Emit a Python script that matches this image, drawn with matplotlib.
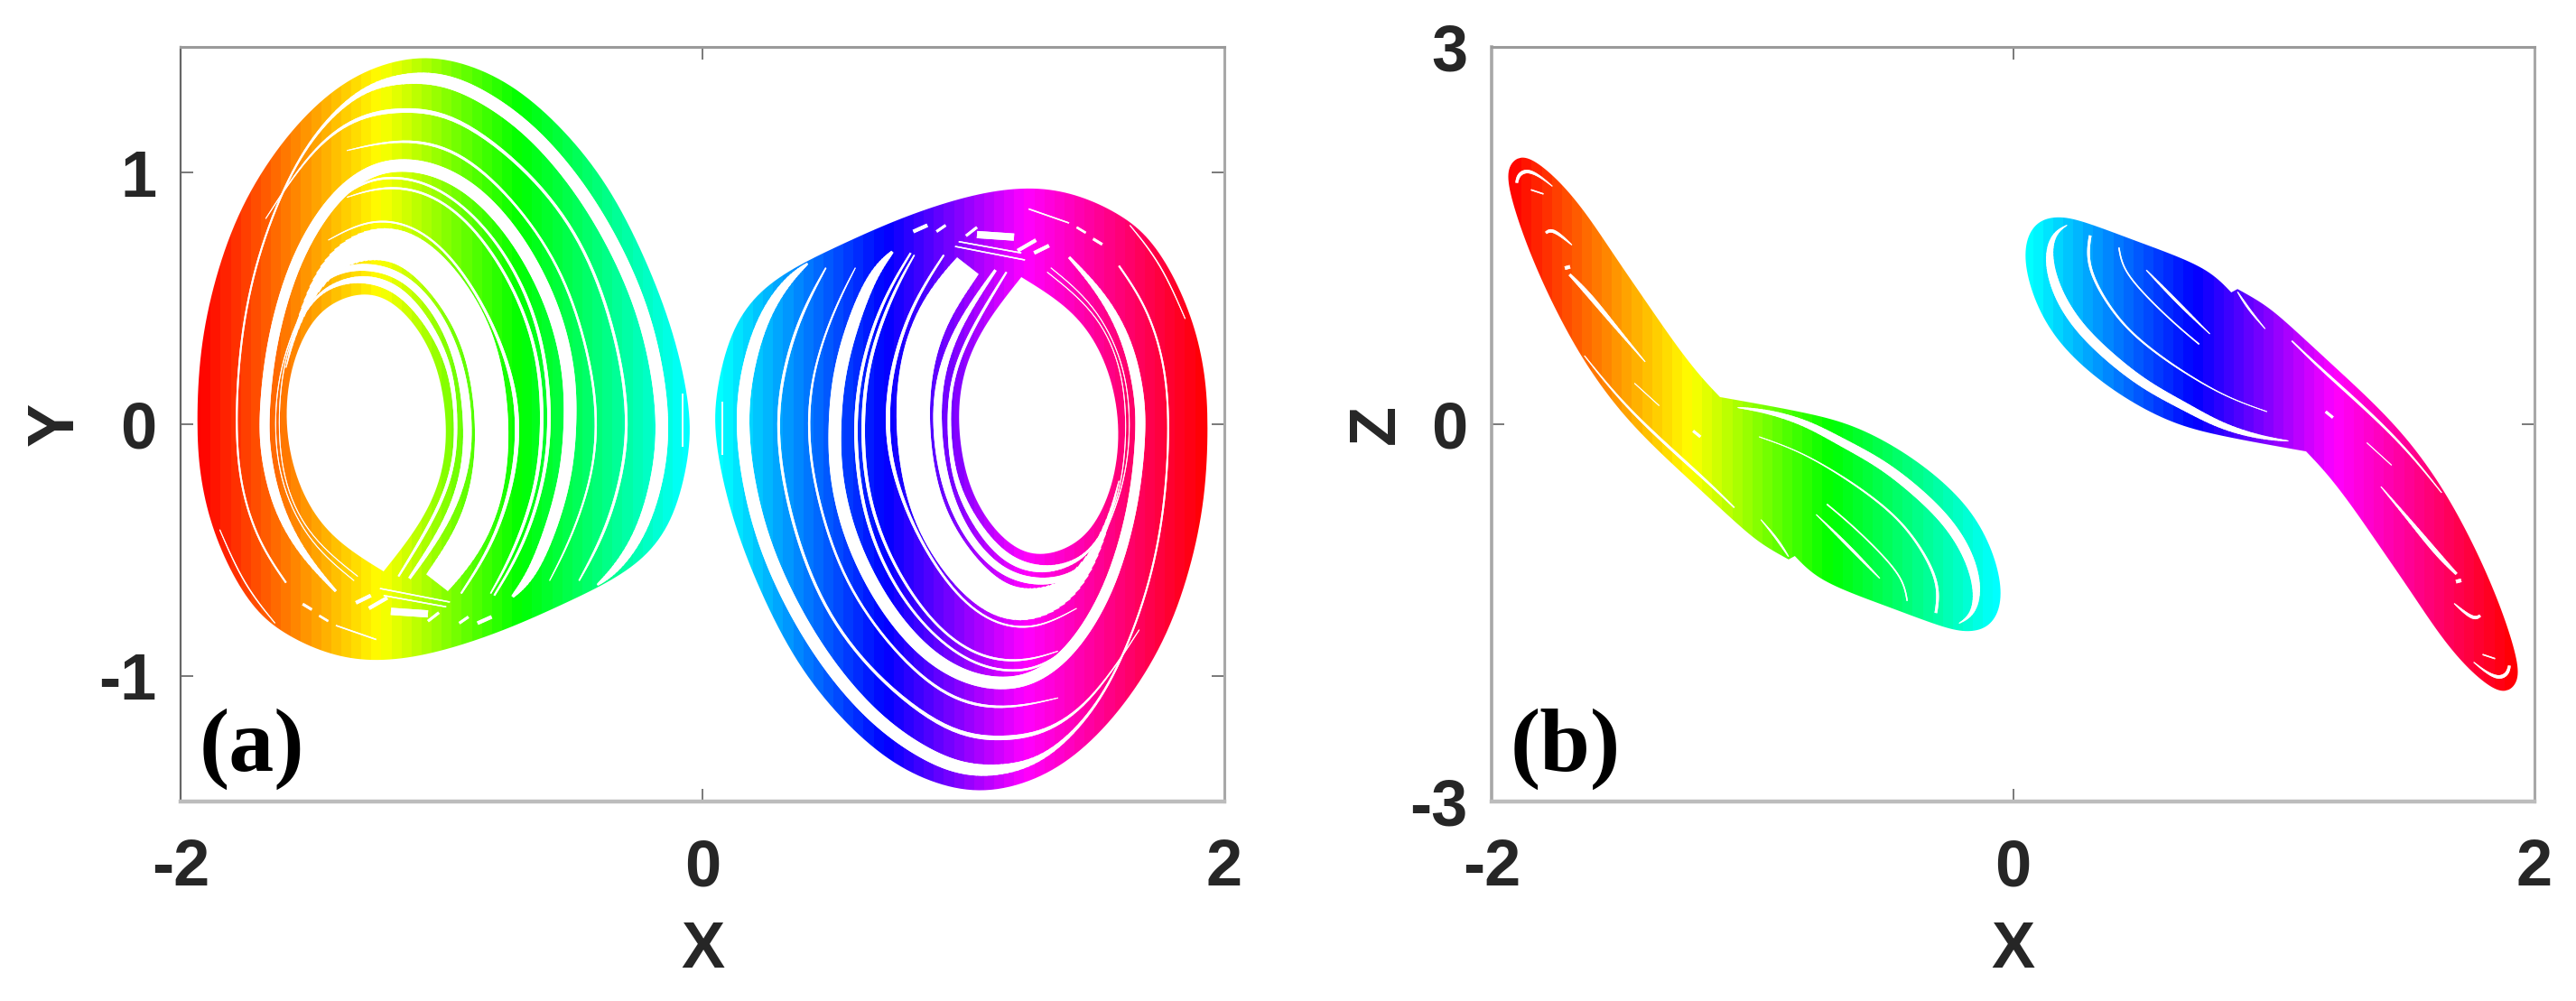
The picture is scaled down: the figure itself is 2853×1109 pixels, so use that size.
import numpy as np
import matplotlib
matplotlib.use("Agg")
import matplotlib.pyplot as plt
from matplotlib.collections import LineCollection
from matplotlib.colors import hsv_to_rgb
from matplotlib.patches import PathPatch
from matplotlib.path import Path

hue_x = [-1.92, -1.235, -0.70, -0.07, 0.07, 0.70, 1.235, 1.92]
hue_v = [0.0, 1 / 6, 1 / 3, 0.5, 0.5, 2 / 3, 5 / 6, 1.0]

# ---- panel (a): left attractor outline (right one is its point mirror)
a_outer_x = [-1.939, -1.928, -1.871, -1.772, -1.617, -1.448, -1.278, -1.081, -.897, -.713, -.530, -.360, -.219, -.106, -.043, -.050, -.106, -.205, -.346, -.516, -.713, -.911, -1.109, -1.292, -1.448, -1.589, -1.702, -1.801, -1.885, -1.928]
a_outer_y = [.001, .292, .580, .868, 1.122, 1.308, 1.418, 1.469, 1.435, 1.342, 1.173, .953, .665, .360, .055, -.131, -.368, -.520, -.622, -.707, -.800, -.876, -.930, -.944, -.910, -.842, -.757, -.605, -.402, -.199]
a_hole_x = [-1.603, -1.582, -1.504, -1.405, -1.292, -1.194, -1.095, -1.017, -.982, -.982, -1.017, -1.095, -1.222, -1.222, -1.222, -1.363, -1.476, -1.561]
a_hole_y = [.001, .225, .411, .495, .526, .495, .394, .242, .055, -.114, -.266, -.419, -.585, -.585, -.585, -.495, -.385, -.216]

# ---- panel (a): white gaps between the bands (x, y, width in px)
ga1_x = [-1.596, -1.702, -1.772, -1.791, -1.772, -1.709, -1.589, -1.462, -1.307, -1.151, -.996, -.841, -.657, -.473, -.318, -.205, -.146, -.163, -.233, -.332, -.403]
ga1_y = [-.630, -.470, -.249, .001, .343, .665, .986, 1.190, 1.334, 1.379, 1.376, 1.308, 1.173, .953, .682, .394, .055, -.199, -.436, -.580, -.639]
ga1_w = [2, 2, 2, 2, 2, 2, 2, 3, 6, 12, 14, 14, 14, 14, 14, 14, 14, 14, 12, 8, 2]
ga2_x = [-1.674, -1.504, -1.335, -1.151, -.939, -.657, -.459, -.339, -.280, -.304, -.375, -.473]
ga2_y = [.817, 1.088, 1.223, 1.257, 1.232, 1.003, .732, .394, .055, -.199, -.436, -.622]
ga2_w = [1, 2, 4, 5.5, 4, 3, 3, 3, 3, 3, 3, 1.5]
ga3_x = [-1.363, -1.151, -.939, -.728, -.544, -.445, -.400, -.417, -.502, -.586]
ga3_y = [1.088, 1.139, 1.096, .902, .631, .326, .055, -.199, -.453, -.622]
ga3_w = [1, 3, 3, 2.5, 2.5, 2.5, 2.5, 2, 2, 1]
ga4_x = [-1.405, -1.532, -1.631, -1.678, -1.681, -1.652, -1.561, -1.419, -1.278, -1.151, -1.010, -.855, -.699, -.572, -.509, -.504, -.523, -.586, -.657, -.728]
ga4_y = [-.664, -.520, -.334, -.114, .055, .343, .665, .902, 1.012, 1.037, 1.012, .919, .732, .479, .225, .001, -.216, -.436, -.605, -.686]
ga4_w = [3, 8, 11, 11, 11, 11, 12, 12, 13, 14, 14, 14, 14, 14, 14, 14, 14, 13, 10, 3]
ga5_x = [-1.476, -1.335, -1.194, -1.024, -.855, -.714, -.615, -.579, -.601, -.685, -.798]
ga5_y = [.817, .953, .992, .953, .817, .614, .360, .055, -.216, -.486, -.681]
ga5_w = [1, 2.5, 2.5, 2.5, 2.5, 3, 3.5, 4, 3.5, 3, 2]
ga6_x = [-1.363, -1.222, -1.052, -.883, -.728, -.629, -.608, -.636, -.728, -.812]
ga6_y = [.902, .949, .927, .800, .563, .292, .001, -.266, -.520, -.673]
ga6_w = [1, 2.5, 2.5, 2.5, 3, 3.5, 4, 3.5, 3, 1.5]
ga7_x = [-1.434, -1.278, -1.109, -.954, -.812, -.728, -.704, -.721, -.798, -.925]
ga7_y = [.732, .819, .797, .665, .428, .191, .001, -.216, -.470, -.673]
ga7_w = [1, 2, 2, 2.5, 3, 4, 5, 4, 3, 2]
ga8_x = [-1.596, -1.547, -1.434, -1.264, -1.109, -.954, -.841, -.798, -.819, -.897, -1.017]
ga8_y = [.225, .428, .648, .732, .699, .529, .309, .001, -.266, -.470, -.630]
ga8_w = [1, 5, 20, 37, 38, 37, 37, 37, 37, 36, 30]
ga9_x = [-1.321, -1.504, -1.603, -1.631, -1.603, -1.504, -1.405, -1.292, -1.165, -1.052, -.961, -.941, -.953, -1.024, -1.165]
ga9_y = [-.605, -.453, -.249, .001, .292, .495, .563, .584, .543, .411, .225, .001, -.182, -.368, -.605]
ga9_w = [1, 1, 1, 1, 1, 2, 5, 9, 9, 7, 5, 3.5, 3.5, 3.5, 2]
ga10_x = [-1.335, -1.504, -1.617, -1.645, -1.617, -1.504, -1.405, -1.278, -1.137, -1.010, -.925, -.894, -.908, -.982, -1.123]
ga10_y = [-.622, -.478, -.249, .001, .258, .529, .614, .633, .589, .445, .242, .001, -.199, -.402, -.613]
ga10_w = [1, 1, 1, 1, 1, 2, 7, 8, 8, 8, 9, 10, 8, 6, 3]
ga11_x = [-1.850, -1.758, -1.638]
ga11_y = [-.419, -.639, -.791]
ga11_w = [1, 1.5, 1]
ga12_x = [-.075, -.075]
ga12_y = [.123, -.089]
ga12_w = [1.5, 1.5]
# short slits in the crossing zone: x0, x1, y0, y1, width
sa_x0 = [-1.532, -1.469, -1.405, -1.328, -1.278, -1.194, -1.052, -.932, -.862, -1.236, -1.222]
sa_x1 = [-1.497, -1.434, -1.250, -1.271, -1.208, -1.052, -1.010, -.897, -.808, -.968, -.982]
sa_y0 = [-.715, -.761, -.800, -.710, -.732, -.744, -.783, -.791, -.791, -.653, -.681]
sa_y1 = [-.737, -.783, -.856, -.681, -.690, -.754, -.749, -.766, -.766, -.707, -.726]
sa_w = [3, 2.5, 1.5, 4, 4, 8, 3, 3, 4, 1.5, 1.5]

# ---- panel (b): left attractor outline
b_outer_x = [-1.890, -1.822, -1.726, -1.630, -1.521, -1.411, -1.302, -1.206, -1.124, -1.124, -1.124, -.974, -.796, -.632, -.467, -.303, -.166, -.084, -.043, -.050, -.098, -.180, -.276, -.467, -.632, -.761, -.837, -.837, -.837, -.861, -.861, -.861, -.933, -1.001, -1.097, -1.233, -1.384, -1.521, -1.644, -1.740, -1.822, -1.890, -1.938, -1.938]
b_outer_z = [2.144, 2.084, 1.905, 1.658, 1.315, .985, .655, .394, .216, .216, .216, .161, .092, .010, -.155, -.388, -.663, -.965, -1.267, -1.487, -1.625, -1.658, -1.611, -1.460, -1.336, -1.212, -1.048, -1.048, -1.048, -1.075, -1.075, -1.075, -.993, -.897, -.718, -.457, -.169, .133, .491, .848, 1.205, 1.562, 1.892, 2.056]
# ---- panel (b): white gaps
gb1_x = [-.207, -.153, -.132, -.166, -.248, -.372, -.508, -.659, -.796, -.946, -1.056]
gb1_z = [-1.583, -1.515, -1.322, -1.048, -.773, -.526, -.306, -.141, .016, .106, .133]
gb1_w = [1, 5, 9, 11, 11, 11, 10, 9, 7, 4, 1]
gb2_x = [-.296, -.283, -.317, -.413, -.536, -.673, -.823, -.974]
gb2_z = [-1.501, -1.322, -1.103, -.801, -.581, -.388, -.210, -.100]
gb2_w = [3, 3, 2.5, 2, 2, 1.5, 1, 1]
gb3_x = [-.406, -.420, -.495, -.618, -.714]
gb3_z = [-1.405, -1.240, -1.048, -.801, -.636]
gb3_w = [1.5, 1.5, 1.5, 1.5, 1.5]
gb4_x = [-.755, -.645, -.511]
gb4_z = [-.718, -.938, -1.226]
gb4_w = [1, 4, 1]
gb5_x = [-.967, -.905, -.861]
gb5_z = [-.759, -.910, -1.053]
gb5_w = [1, 3, 1]
gb6_x = [-1.069, -1.179, -1.343, -1.507, -1.644]
gb6_z = [-.663, -.443, -.141, .188, .545]
gb6_w = [1.5, 3, 3, 2, 1]
gb7_x = [-1.701, -1.630, -1.521, -1.411]
gb7_z = [1.191, 1.040, .765, .496]
gb7_w = [3, 6, 3, 1]
gb8_x = [-1.452, -1.357]
gb8_z = [.326, .147]
gb8_w = [1, 1]
gb9_x = [-1.227, -1.199]
gb9_z = [-.053, -.100]
gb9_w = [3, 3]
gb10_x = [-1.904, -1.897, -1.863, -1.815, -1.767]
gb10_z = [1.919, 1.988, 2.023, 1.974, 1.892]
gb10_w = [3, 4, 4, 2, 1]
gb11_x = [-1.849, -1.801]
gb11_z = [1.864, 1.831]
gb11_w = [1.5, 1.5]
gb12_x = [-1.792, -1.774, -1.740, -1.692]
gb12_z = [1.521, 1.548, 1.512, 1.425]
gb12_w = [3, 4, 3, 1]
gb13_x = [-1.719, -1.699]
gb13_z = [1.241, 1.252]
gb13_w = [4, 4]

x_ticks = [-2, 0, 2]
ya_ticks = [-1, 0, 1]
zb_ticks = [-3, 0, 3]

W, H = 2853, 1109
INK = "#262626"
FS = 52
plt.rcParams["font.family"] = ["Liberation Sans", "DejaVu Sans"]
plt.rcParams["font.weight"] = "bold"
plt.rcParams["axes.unicode_minus"] = False


def smooth(values, closed=False, sub=8):
    """Cubic B-spline rendering through the read points; one row per array."""
    p = np.array(values, float)
    if closed:
        p = np.c_[p[:, -1], p, p[:, 0], p[:, 1]]
    else:
        p = np.c_[p[:, 0], p[:, 0], p, p[:, -1], p[:, -1]]
    t = np.linspace(0, 1, sub, endpoint=False)[:, None]
    out = []
    for i in range(1, p.shape[1] - 2):
        a, b, c, d = p[:, i - 1], p[:, i], p[:, i + 1], p[:, i + 2]
        out.append(((1 - t) ** 3 * a + (3 * t ** 3 - 6 * t ** 2 + 4) * b
                    + (-3 * t ** 3 + 3 * t ** 2 + 3 * t + 1) * c + t ** 3 * d).T / 6)
    out = np.concatenate(out, axis=1)
    return np.c_[out, p[:, -2]] if not closed else out


def closed_path(x, y):
    sx, sy = smooth([x, y], closed=True)
    return np.c_[sx, sy]


def draw_gaps(ax, gaps):
    segs, lws = [], []
    for sign in (1, -1):
        for gx, gy, gw in gaps:
            sx, sy, sw = smooth([gx, gy, gw])
            pts = sign * np.c_[sx, sy]
            for i in range(len(pts) - 1):
                segs.append(pts[i:i + 3])
                lws.append(max(sw[i], 0.8) * 72 / 100)
    ax.add_collection(LineCollection(segs, colors="white", linewidths=lws,
                                     capstyle="butt", joinstyle="round", zorder=3))


def draw_attractor(ax, ox, oy, ylim):
    n = 104
    edges = np.linspace(-2, 2, n + 1)
    centers = 0.5 * (edges[:-1] + edges[1:])
    h = np.interp(centers, hue_x, hue_v) % 1.0
    h[centers > 1.92] = 0.0
    rgb = hsv_to_rgb(np.c_[h, np.ones(n), np.ones(n)])[None, :, :]
    im = ax.imshow(rgb, extent=[-2, 2, ylim[0], ylim[1]], aspect="auto",
                   interpolation="nearest", zorder=2)
    v = closed_path(ox, oy)
    pth = Path.make_compound_path(Path(v, closed=True), Path(-v, closed=True))
    patch = PathPatch(pth, transform=ax.transData, fc="none", ec="none")
    ax.add_patch(patch)
    im.set_clip_path(patch)


def style(ax, yticks, ylim, ylabel, ylabel_px, tag, tag_px, left_c, left_w):
    ax.set_xlim(-2, 2)
    ax.set_ylim(*ylim)
    ax.set_xticks(x_ticks)
    ax.set_yticks(yticks)
    ax.tick_params(direction="in", top=True, right=True, length=10, width=1.1,
                   color="#555555", labelsize=FS, labelcolor=INK)
    ax.tick_params(axis="x", pad=29)
    ax.tick_params(axis="y", pad=19)
    for lab in ax.get_xticklabels() + ax.get_yticklabels():
        lab.set_fontweight("bold")
    ax.spines["left"].set(color=left_c, linewidth=left_w)
    ax.spines["top"].set(color="#9a9a9a", linewidth=2.2)
    ax.spines["right"].set(color="#a8a8a8", linewidth=2.2)
    ax.spines["bottom"].set(color="#bcbcbc", linewidth=3.2)
    b = ax.get_position()
    cx = b.x0 + b.width / 2
    fig.text(cx, 1 - 1053 / H, "X", ha="center", va="center", fontsize=FS,
             fontweight="bold", color=INK)
    fig.text(ylabel_px / W, 1 - 470 / H, ylabel, ha="center", va="center",
             rotation=90, fontsize=FS, fontweight="bold", color=INK)
    fig.text(tag_px / W, 1 - 830 / H, tag, ha="left", va="center", fontsize=72,
             fontweight="bold", family="Liberation Serif", color="black", zorder=6)


fig = plt.figure(figsize=(W / 100, H / 100), dpi=100, facecolor="white")
ax_a = fig.add_axes([200 / W, (H - 888) / H, 1156 / W, 836 / H])
ax_b = fig.add_axes([1652 / W, (H - 888) / H, 1155 / W, 836 / H])

# panel (a)
draw_attractor(ax_a, a_outer_x, a_outer_y, (-1.5, 1.5))
hv = closed_path(a_hole_x, a_hole_y)
ax_a.fill(hv[:, 0], hv[:, 1], color="white", zorder=3, lw=0)
ax_a.fill(-hv[:, 0], -hv[:, 1], color="white", zorder=3, lw=0)
gaps_a = [(ga1_x, ga1_y, ga1_w), (ga2_x, ga2_y, ga2_w), (ga3_x, ga3_y, ga3_w),
          (ga4_x, ga4_y, ga4_w), (ga5_x, ga5_y, ga5_w), (ga6_x, ga6_y, ga6_w),
          (ga7_x, ga7_y, ga7_w), (ga8_x, ga8_y, ga8_w), (ga9_x, ga9_y, ga9_w),
          (ga10_x, ga10_y, ga10_w), (ga11_x, ga11_y, ga11_w), (ga12_x, ga12_y, ga12_w)]
gaps_a += [([a, b], [c, d], [w, w]) for a, b, c, d, w in zip(sa_x0, sa_x1, sa_y0, sa_y1, sa_w)]
draw_gaps(ax_a, gaps_a)
style(ax_a, ya_ticks, (-1.5, 1.5), "Y", 62, "(a)", 221, "#666666", 1.6)

# panel (b)
draw_attractor(ax_b, b_outer_x, b_outer_z, (-3, 3))
gaps_b = [(gb1_x, gb1_z, gb1_w), (gb2_x, gb2_z, gb2_w), (gb3_x, gb3_z, gb3_w),
          (gb4_x, gb4_z, gb4_w), (gb5_x, gb5_z, gb5_w), (gb6_x, gb6_z, gb6_w),
          (gb7_x, gb7_z, gb7_w), (gb8_x, gb8_z, gb8_w), (gb9_x, gb9_z, gb9_w),
          (gb10_x, gb10_z, gb10_w), (gb11_x, gb11_z, gb11_w), (gb12_x, gb12_z, gb12_w),
          (gb13_x, gb13_z, gb13_w)]
draw_gaps(ax_b, gaps_b)
style(ax_b, zb_ticks, (-3, 3), "Z", 1525, "(b)", 1673, "#a8a8a8", 2.6)

fig.savefig("out.png", dpi=100, facecolor="white")
